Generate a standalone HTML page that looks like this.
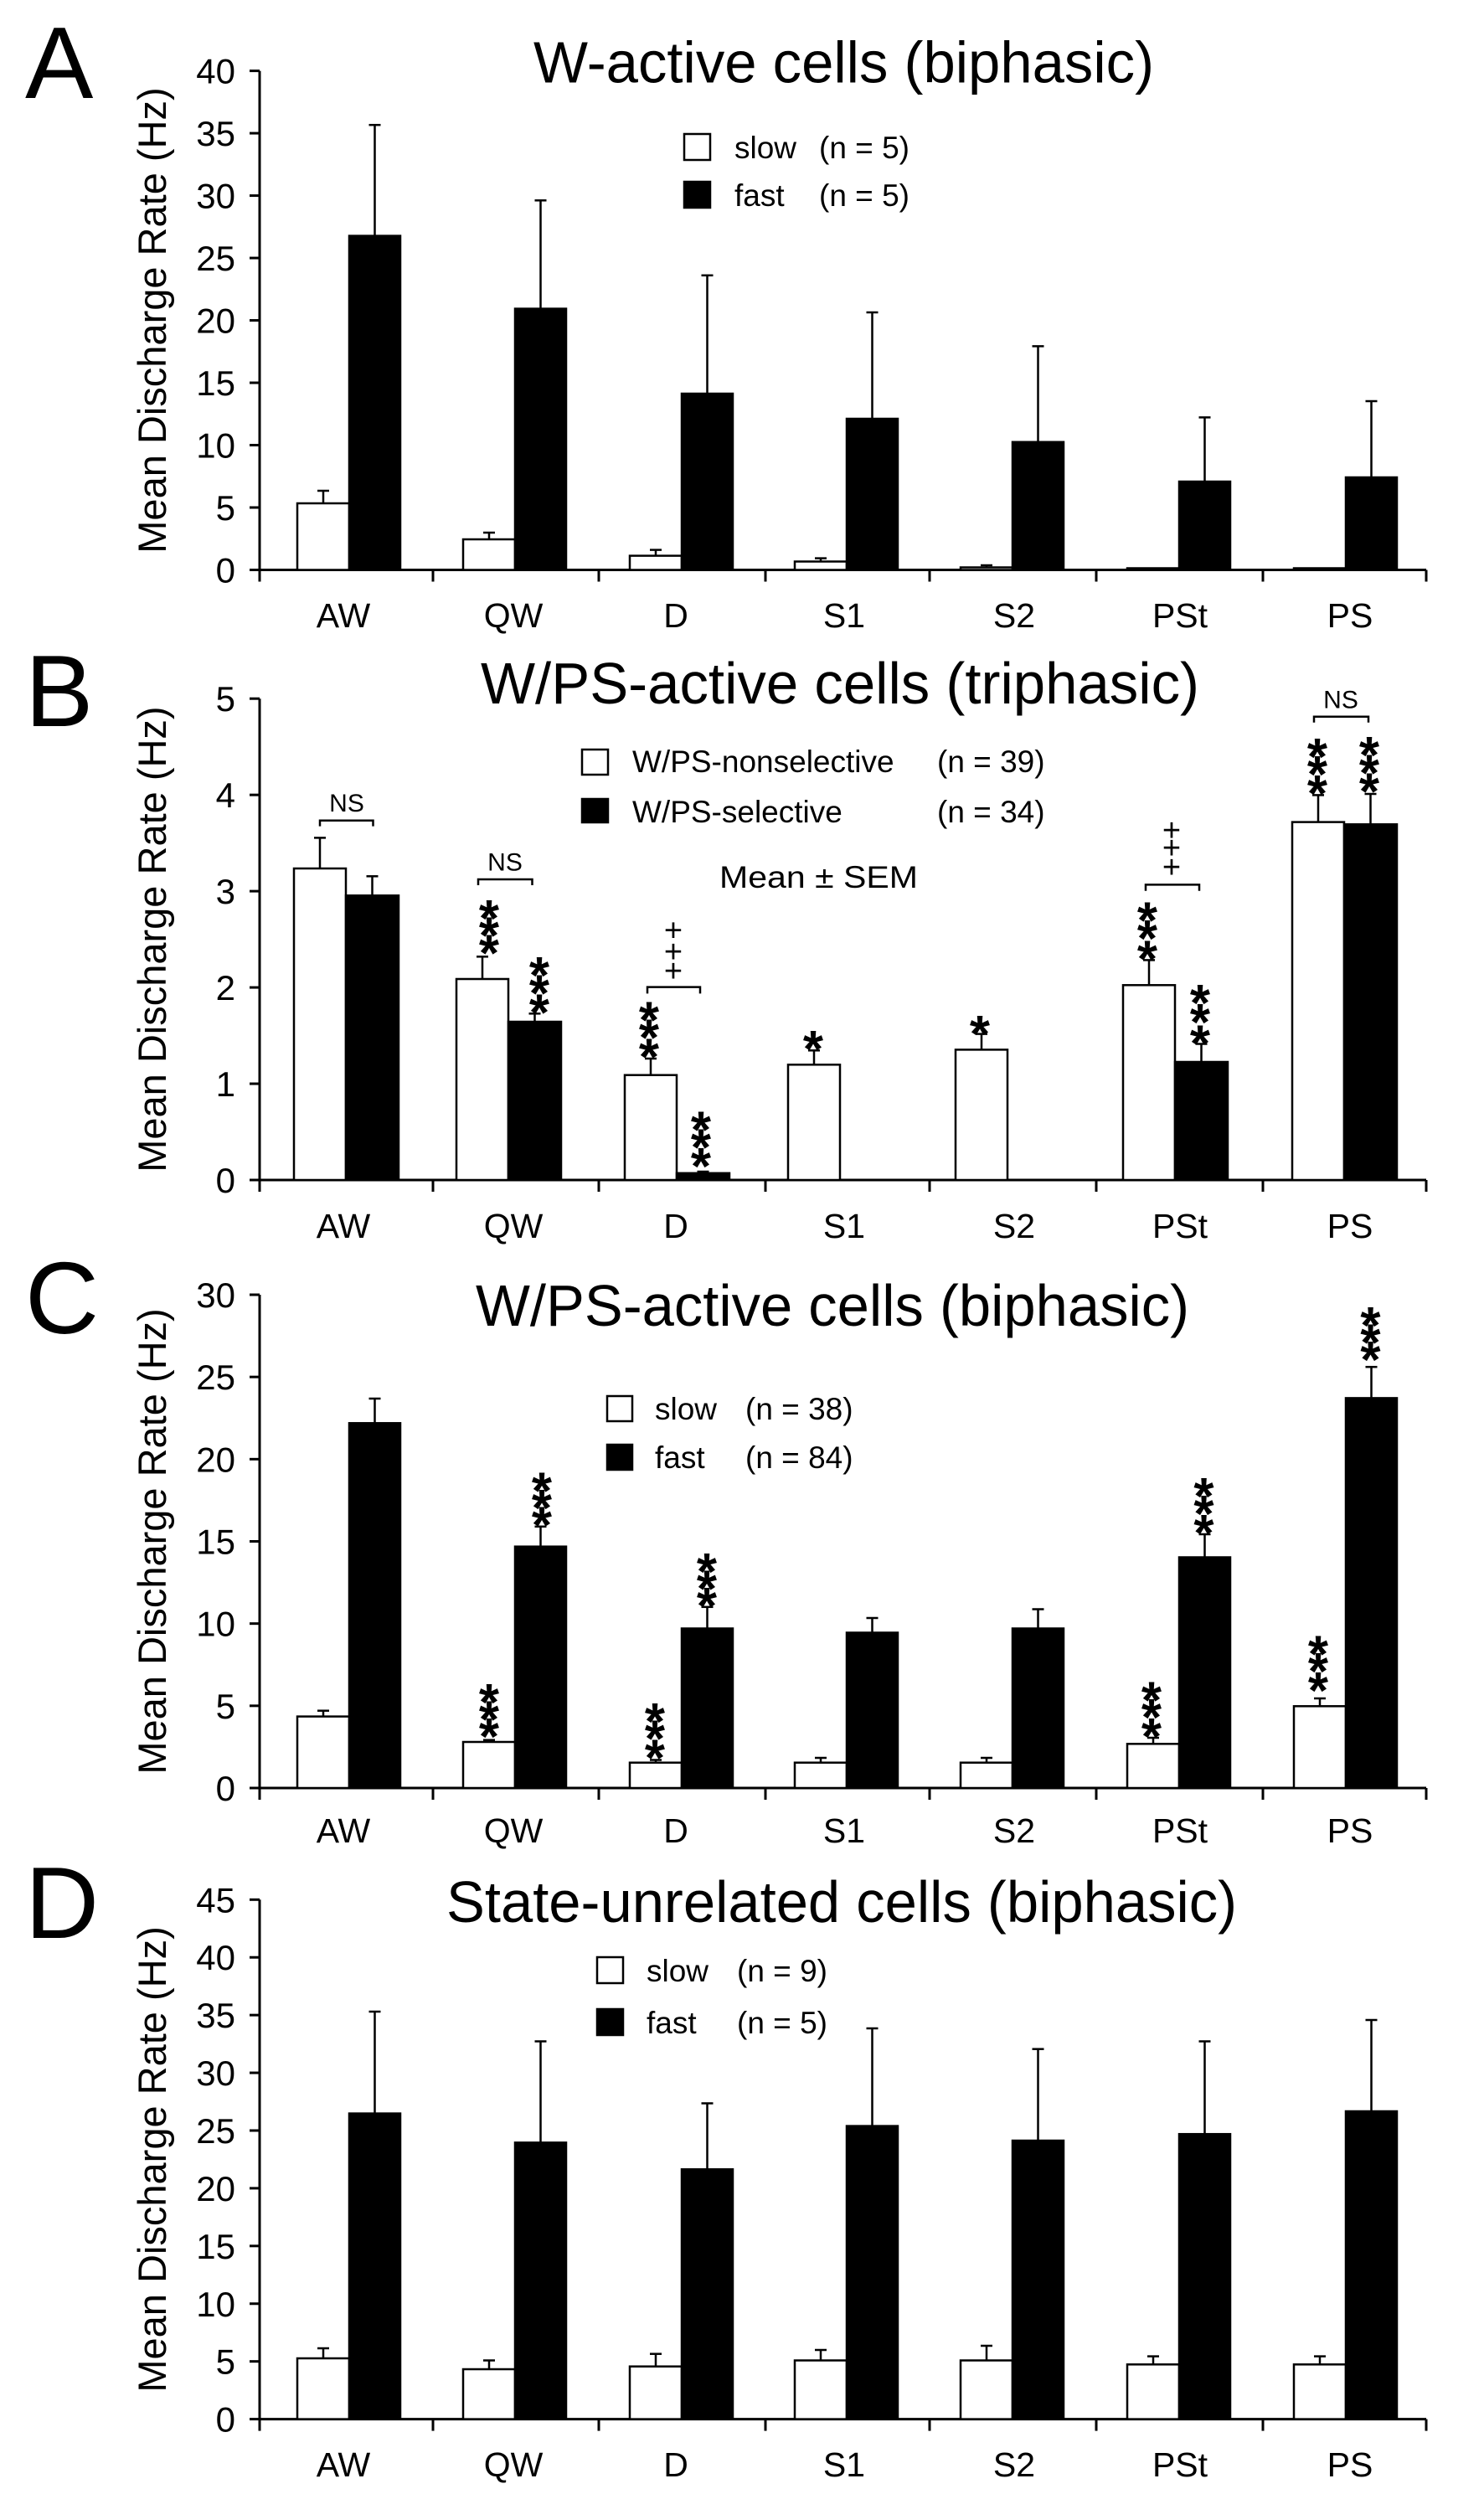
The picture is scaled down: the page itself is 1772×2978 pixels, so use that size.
<!DOCTYPE html>
<html><head><meta charset="utf-8"><style>
html,body{margin:0;padding:0;background:#fff;}
svg{display:block;}
text{font-family:"Liberation Sans",Arimo,Arial,sans-serif;fill:#000;}
</style></head><body>
<svg id="s" xmlns="http://www.w3.org/2000/svg" width="1772" height="2978" viewBox="0 0 1772 2978"></svg>
<script>
const S=document.getElementById('s');let h='';
function T(x,y,s,fs,anchor,extra){h+=`<text x="${x}" y="${y}" font-size="${fs}" text-anchor="${anchor||'start'}" ${extra||''}>${s}</text>`;}
function L(x1,y1,x2,y2,w){h+=`<line x1="${x1}" y1="${y1}" x2="${x2}" y2="${y2}" stroke="#000" stroke-width="${w||2.5}"/>`;}
function R(x,y,w,hh,fill){h+=`<rect x="${x}" y="${y}" width="${w}" height="${hh}" fill="${fill}" stroke="#000" stroke-width="2.5"/>`;}
function star(x,y){T(x,y+35,'*',62,'middle','font-weight="bold"');}
function stars(x,ys){ys.forEach(y=>star(x,y));}
function plus(x,y){T(x,y+13,'+',38,'middle');}
function bracket(x1,x2,y,y2){h+=`<polyline points="${x1},${y2} ${x1},${y} ${x2},${y} ${x2},${y2}" fill="none" stroke="#000" stroke-width="2.5"/>`;}
const cats=['AW','QW','D','S1','S2','PSt','PS'];
const ticksX=[310,517,715,914,1110,1309,1508,1703];
const labX=[410,613,807,1008,1211,1409,1612];
function panel(o){
  const {top,zero,max,step,letter,ly,title,tx,tx2,ty,labY}=o;
  L(310,top,310,zero,3);L(310,zero,1703,zero,3);
  for(const x of ticksX) L(x,zero,x,zero+14,3);
  const n=max/step;
  for(let i=0;i<=n;i++){const y=zero-(zero-top)*i/n;L(298,y,310,y,3);T(281,y+15,String(i*step),42,'end');}
  const mid=(top+zero)/2;
  T(0,0,'Mean Discharge Rate (Hz)',47,'middle',`transform="translate(198,${mid}) rotate(-90)"`);
  cats.forEach((c,i)=>T(labX[i],labY,c,41,'middle'));
  T(30,ly,letter,122,'start');
  T(tx,ty,title,70,'start',`textLength="${tx2-tx}" lengthAdjust="spacingAndGlyphs"`);
}
function bars(splits,ww,wb,white,black,zero){
  splits.forEach((s,i)=>{
    const w=white[i],b=black[i];
    if(w){const cx=s-ww/2; if(w[1]!=null){L(cx,w[0],cx,w[1]);L(cx-7,w[1],cx+7,w[1]);} R(s-ww,w[0],ww,zero-w[0],'#fff');}
    if(b){const cx=s+wb/2; if(b[1]!=null){L(cx,b[0],cx,b[1]);L(cx-7,b[1],cx+7,b[1]);} R(s,b[0],wb,zero-b[0],'#000');}
  });
}
function legend(bx,by1,by2,tx,nx,l1,n1,l2,n2,fs,bs){
  R(bx,by1,bs,bs,'#fff');R(bx,by2,bs,bs,'#000');
  T(tx,by1+bs-2,l1,fs);T(nx,by1+bs-2,n1,fs);
  T(tx,by2+bs-2,l2,fs);T(nx,by2+bs-2,n2,fs);
}
const sp=[417,615,814,1011,1209,1408,1607];
panel({top:84.6,zero:680.5,max:40,step:5,letter:'A',ly:117,title:'W-active cells (biphasic)',tx:637,tx2:1378,ty:98.5,labY:749});
bars(sp,62,61,
 [[601,586],[644,636],[663.6,656.6],[670.5,666.6],[677.5,675],[678.5,null],[678.5,null]],
 [[281.6,149.2],[368.6,239.3],[470,328.8],[500,373],[527.8,413.4],[575,498.4],[570,479]],680.5);
legend(817,160,217,877,978,'slow','(n = 5)','fast','(n = 5)',37,31);
panel({top:834.2,zero:1409,max:5,step:1,letter:'B',ly:867,title:'W/PS-active cells (triphasic)',tx:574,tx2:1432,ty:840,labY:1478});
const spB=[413,607,808,1003,1203,1403,1605];
bars(spB,62,63,
 [[1037,1000.4],[1169,1142.3],[1283.7,1264],[1271.3,1254.3],[1253.4,1234.6],[1176.3,1146.4],[981.6,949.4]],
 [[1069.3,1046.3],[1220,1210.3],[1400.8,1399],null,null,[1268,1246.5],[984.3,948]],1409);
R(695,895,31,30,'#fff');R(695,954,31,28,'#000');
T(755,922,'W/PS-nonselective',37);T(1119,922,'(n = 39)',37);
T(755,982,'W/PS-selective',37);T(1119,982,'(n = 34)',37);
T(859,1060,'Mean ± SEM',37,'start','textLength="237" lengthAdjust="spacingAndGlyphs"');
bracket(382,445.5,979.7,986.6);T(414,969,'NS',30,'middle');
bracket(571,635.5,1050,1057);T(603,1039.4,'NS',30,'middle');
bracket(1569,1634,855.8,862.7);T(1601,845.7,'NS',30,'middle');
bracket(773,836,1178.6,1186.4);[1110.6,1135.9,1158.8].forEach(y=>plus(804,y));
bracket(1368,1432,1056.4,1063.8);[991.2,1011.9,1034.8].forEach(y=>plus(1399,y));
stars(584,[1083,1103.7,1124.4]);stars(644,[1151,1172.6,1195.6]);
stars(775,[1204.7,1225.4,1248.4]);stars(837,[1335.6,1356.3,1379.2]);
star(971,1239.2);star(1170,1220.8);
stars(1370,[1085.4,1107,1131.3]);stars(1433,[1184,1207,1232.3]);
stars(1573,[890.2,910.9,933.8]);stars(1635,[888,909.5,931.5]);
panel({top:1546,zero:2135,max:30,step:5,letter:'C',ly:1592,title:'W/PS-active cells (biphasic)',tx:568,tx2:1420,ty:1583,labY:2200});
bars(sp,62,61,
 [[2049.6,2042.7],[2080,2077.7],[2104.7,2101.5],[2104.7,2099],[2104.7,2099],[2082.3,2075],[2037.3,2028]],
 [[1699.3,1670],[1846.7,1822.8],[1944.5,1918.8],[1949.5,1932],[1944.5,1921.5],[1859.5,1832],[1669.4,1632.2]],2135);
legend(725,1667,1725,782,890,'slow','(n = 38)','fast','(n = 84)',37,30);
stars(584,[2018.9,2039.5,2060.2]);stars(647,[1766.3,1787,1807.7]);
stars(782,[2041.8,2062.5,2085.4]);stars(844,[1862.8,1883.4,1904]);
stars(1375,[2016.6,2037.2,2060.2]);stars(1437.5,[1773.2,1793.9,1816.8]);
stars(1574,[1961.5,1982.1,2005]);stars(1636.5,[1568.9,1589.5,1610.2]);
panel({top:2268.3,zero:2888.6,max:45,step:5,letter:'D',ly:2314,title:'State-unrelated cells (biphasic)',tx:533,tx2:1477,ty:2295,labY:2957});
bars(sp,62,61,
 [[2816,2804],[2829,2818.5],[2825.7,2810.7],[2818.5,2806],[2818.5,2801],[2823.3,2813.6],[2823.3,2813.6]],
 [[2523.6,2402],[2558.4,2437.5],[2590.3,2511.5],[2538.6,2422],[2556,2446.7],[2548.2,2437.5],[2521,2412]],2888.6);
legend(713,2337,2399,772,880,'slow','(n = 9)','fast','(n = 5)',37,31);
S.innerHTML=h;
</script>
</body></html>
